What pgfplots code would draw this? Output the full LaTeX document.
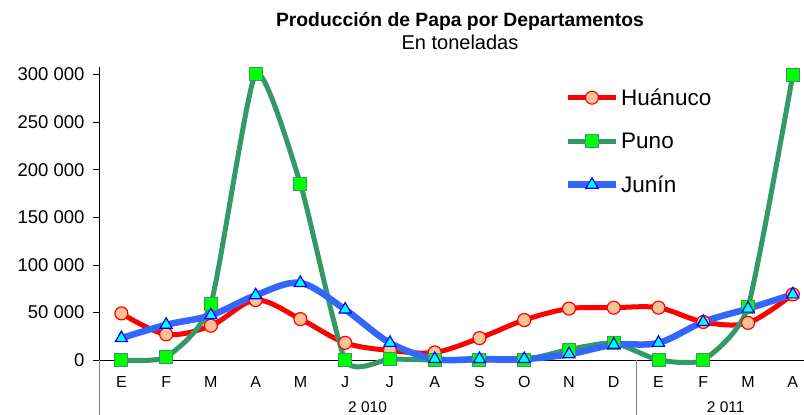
\documentclass[border=0pt]{standalone}
\usepackage{pgfplots}
\pgfplotsset{compat=1.18}
\usepackage{fontspec}
\setmainfont{Liberation Sans}
\definecolor{hred}{RGB}{255,0,0}
\definecolor{hfill}{RGB}{250,195,150}
\definecolor{pgreen}{RGB}{51,153,102}
\definecolor{pfill}{RGB}{0,255,0}
\definecolor{jblue}{RGB}{51,102,255}
\definecolor{jfill}{RGB}{0,255,255}
\definecolor{jedge}{RGB}{0,0,255}
\begin{document}
\begin{tikzpicture}
\begin{axis}[
  scale only axis, width=705pt, height=293pt,
  xmin=-0.5, xmax=15.25, ymin=0, ymax=308000,
  axis x line=bottom, axis y line=left,
  axis line style={-, black, line width=0.8pt},
  clip=false,
  xtick={0,...,15},
  xticklabels={E,F,M,A,M,J,J,A,S,O,N,D,E,F,M,A},
  x tick label style={yshift=-7pt, font=\fontsize{16}{19}\selectfont},
  major x tick style={draw=none},
  ytick={0,50000,100000,150000,200000,250000,300000},
  yticklabels={0,50 000,100 000,150 000,200 000,250 000,300 000},
  y tick label style={xshift=-5pt, font=\fontsize{18.5}{21}\selectfont},
  scaled y ticks=false,
  tick align=outside,
  major tick length=6pt,
  y tick style={black, line width=0.6pt},
  legend cell align=left,
  legend style={draw=none, fill=none, inner sep=0pt, at={(axis cs:9.9,230000)}, anchor=west,
    font=\fontsize{22.5}{26}\selectfont, row sep=22pt},
  legend image code/.code={\draw[mark repeat=2,mark phase=2] plot coordinates {(0pt,0pt) (24pt,0pt) (48pt,0pt)};},
  smooth, tension=0.55,
]
\addplot[hred, line width=5pt, mark=*, mark size=6.5pt,
  mark options={fill=hfill, draw=hred, line width=1.2pt}]
  coordinates {(0,49000)(1,27000)(2,36000)(3,63000)(4,43000)(5,18000)(6,10000)(7,8000)
  (8,23000)(9,42000)(10,54000)(11,55000)(12,55000)(13,40000)(14,39000)(15,69000)};
\addlegendentry{Huánuco}
\addplot[pgreen, line width=5pt, mark=square*, mark size=6.5pt, tension=0.33,
  mark options={fill=pfill, draw=pgreen, line width=1pt}]
  coordinates {(0,0)(1,3000)(2,59000)(3,301000)(4,185000)(5,0)(6,1000)(7,0)
  (8,0)(9,0)(10,11000)(11,18000)(12,0)(13,0)(14,56000)(15,300000)};
\addlegendentry{Puno}
\addplot[jblue, line width=6.5pt, mark=triangle*, mark size=7pt,
  mark options={fill=jfill, draw=jedge, line width=1.2pt}]
  coordinates {(0,23000)(1,37000)(2,47000)(3,68000)(4,81000)(5,53000)(6,18000)(7,1000)
  (8,1000)(9,1000)(10,6000)(11,16000)(12,18000)(13,40000)(14,54000)(15,69000)};
\addlegendentry{Junín}
\draw[gray, line width=0.8pt] (axis cs:-0.5,0) -- ([yshift=-55pt]axis cs:-0.5,0);
\draw[gray, line width=0.8pt] (axis cs:11.5,0) -- ([yshift=-55pt]axis cs:11.5,0);
\node[font=\fontsize{15.5}{18}\selectfont] at (axis cs:5.5,0) [yshift=-47pt] {2 010};
\node[font=\fontsize{15.5}{18}\selectfont] at (axis cs:13.5,0) [yshift=-47pt] {2 011};
\coordinate (bl) at (axis cs:-0.5,0);
\end{axis}
\path (bl) ++(361pt,333pt) node[anchor=base, font=\bfseries\fontsize{19.3}{22}\selectfont] {Producción de Papa por Departamentos};
\path (bl) ++(361pt,310pt) node[anchor=base, font=\fontsize{20}{23}\selectfont] {En toneladas};
\pgfresetboundingbox
\path (bl) ++(-99pt,-55pt) rectangle ++(804pt,415pt);
\end{tikzpicture}
\end{document}
